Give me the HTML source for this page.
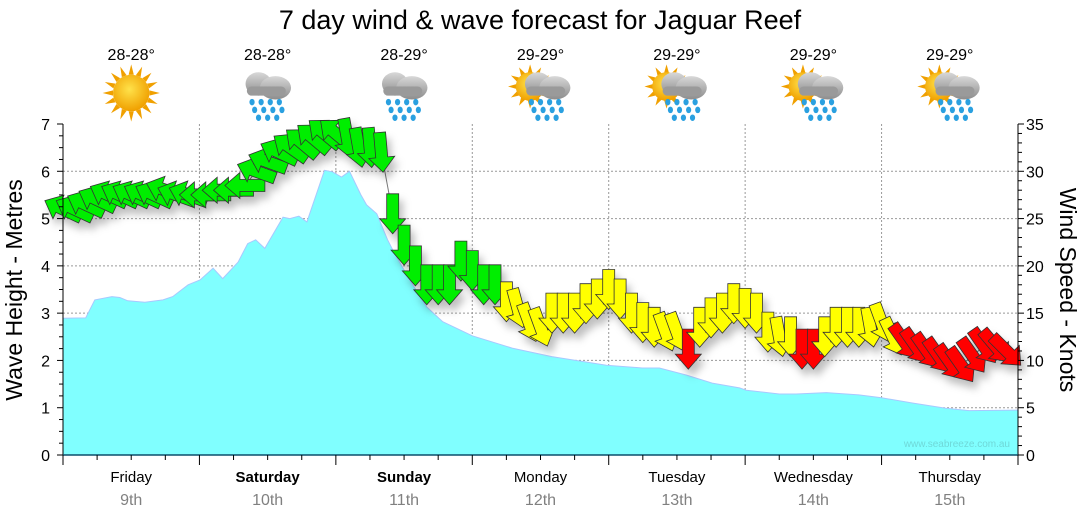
<!DOCTYPE html>
<html><head><meta charset="utf-8"><style>
html,body{margin:0;padding:0;background:#fff;}
svg{display:block;font-family:"Liberation Sans",sans-serif;}
</style></head><body>
<svg id="chart" width="1080" height="522" viewBox="0 0 1080 522" xmlns="http://www.w3.org/2000/svg">
<defs>
<filter id="sh" x="-50%" y="-50%" width="200%" height="200%"><feDropShadow dx="4" dy="7" stdDeviation="4" flood-color="#000" flood-opacity="0.25"/></filter>
<radialGradient id="sunG" cx="0.45" cy="0.4" r="0.6"><stop offset="0" stop-color="#ffe24a"/><stop offset="1" stop-color="#f0a000"/></radialGradient>
<linearGradient id="cloudG" x1="0" y1="0" x2="0" y2="1"><stop offset="0" stop-color="#d8d8d8"/><stop offset="1" stop-color="#8c8c8c"/></linearGradient>
</defs>
<text x="540" y="29" font-size="27" text-anchor="middle" fill="#000">7 day wind &amp; wave forecast for Jaguar Reef</text>
<g id="grid"></g>
<g id="wave"></g>
<g id="wind"></g>
<g id="axes"></g>
<g id="icons"></g>
<text transform="translate(22,290) rotate(-90)" font-size="23" text-anchor="middle">Wave Height - Metres</text>
<text transform="translate(1060,290) rotate(90)" font-size="23" text-anchor="middle">Wind Speed - Knots</text>
<text x="1010" y="447" font-size="10" text-anchor="end" fill="#6fd8d8">www.seabreeze.com.au</text>
</svg>
<script>
const days = ["Friday","Saturday","Sunday","Monday","Tuesday","Wednesday","Thursday"];
const dates = ["9th","10th","11th","12th","13th","14th","15th"];
const boldDays = [false,true,true,false,false,false,false];
const temps = ["28-28°","28-28°","28-29°","29-29°","29-29°","29-29°","29-29°"];
const iconTypes = ["sun","rain","rain","sunrain","sunrain","sunrain","sunrain"];
const waveHours = [0,4,5.6,8.6,10,11.4,14.4,17.6,19.3,22,24.1,26.4,28.1,30.8,32.5,33.9,35.5,38.7,39.9,41.5,42.9,46,47.4,49,50.4,52.4,53.4,55.2,57.1,58.3,61,64,66.8,72,79,86,95.6,101.9,104.9,109.7,114.2,119,120.2,126,129,134.3,140,144,149.4,155.3,159.4,168];
const waveHeights = [2.89,2.9,3.28,3.35,3.33,3.26,3.23,3.28,3.35,3.6,3.7,3.95,3.73,4.08,4.47,4.55,4.37,5.03,5.0,5.05,4.93,6.02,5.99,5.88,6.0,5.5,5.29,5.1,4.55,4.27,3.7,3.13,2.82,2.52,2.26,2.08,1.9,1.84,1.84,1.69,1.52,1.42,1.37,1.29,1.29,1.32,1.27,1.21,1.1,0.99,0.94,0.95];
const windSpeeds = [26,26,26.5,27,27.5,27.5,27.5,27.5,27.5,28,27.5,27.5,27.5,27.5,28,28,28.5,30,31,32,32.5,33,33.5,34,34,33.5,32.5,32.5,32,25.5,22.2,20,18,18,18,20.5,19.5,18,18,16.2,15.5,14,13.5,15,15,15,16,16.5,17.5,16.5,15,14,13.5,13,13,11.2,13.5,14.5,15,16,15.5,15,13,12.5,12.5,11.2,11.2,12.5,13.5,13.5,13.5,13.5,14,12.5,12,11.5,11,10.5,9.8,9.5,10.5,11.5,11.5,11];
const windDirs = [205,205,205,205,205,205,205,205,205,200,200,200,180,180,180,180,180,200,200,205,215,220,220,220,220,80,80,85,85,90,90,90,90,90,90,90,90,90,90,90,75,70,70,90,90,90,90,90,90,90,90,90,90,70,70,90,90,90,90,90,90,90,90,80,90,90,90,90,90,90,90,80,70,65,55,55,55,55,55,55,55,55,50,45];
const windColors = ["g","g","g","g","g","g","g","g","g","g","g","g","g","g","g","g","g","g","g","g","g","g","g","g","g","g","g","g","g","g","g","g","g","g","g","g","g","g","g","y","y","y","y","y","y","y","y","y","y","y","y","y","y","y","y","r","y","y","y","y","y","y","y","y","y","r","r","y","y","y","y","y","y","y","r","r","r","r","r","r","r","r","r","r"];
const leftTicks = [0,1,2,3,4,5,6,7];
const rightTicks = [0,5,10,15,20,25,30,35];

const NS="http://www.w3.org/2000/svg";
const X0=63,X1=1018,Y0=455,Y1=124;
const xH=h=>X0+h*(X1-X0)/168;
const yM=m=>Y0-m*(Y0-Y1)/7;
const yK=k=>Y0-k*(Y0-Y1)/35;
function mk(tag,attrs,parent){const e=document.createElementNS(NS,tag);for(const k in attrs)e.setAttribute(k,attrs[k]);parent.appendChild(e);return e;}
const grid=document.getElementById('grid'),axes=document.getElementById('axes'),wave=document.getElementById('wave'),wind=document.getElementById('wind'),icons=document.getElementById('icons');

leftTicks.forEach(m=>{if(m>0&&m<7){const l=mk('line',{x1:X0,x2:X1,y1:yM(m),y2:yM(m),stroke:'#999','stroke-dasharray':'2,2','stroke-width':1},grid);

}});
for(let d=1;d<7;d++){const l=mk('line',{x1:xH(d*24),x2:xH(d*24),y1:Y1,y2:Y0,stroke:'#999','stroke-dasharray':'2,2','stroke-width':1},grid);

}

let d='M'+xH(waveHours[0])+','+Y0;
waveHours.forEach((h,i)=>{d+=' L'+xH(h).toFixed(1)+','+yM(waveHeights[i]).toFixed(1);});
d+=' L'+xH(waveHours[waveHours.length-1])+','+Y0+' Z';
const wp=mk('path',{d:d,fill:'#80ffff',stroke:'#a8c8ff','stroke-width':1},wave);



const colMap={g:'#00ee00',y:'#ffff00',r:'#ff0000'};
let pl='';
windSpeeds.forEach((s,i)=>{pl+=(i?' L':'M')+xH(i*2).toFixed(1)+','+yK(s).toFixed(1);});
const ln=mk('path',{d:pl,fill:'none',stroke:'#777','stroke-width':1},wind);


const ag=mk('g',{filter:'url(#sh)'},wind);
windSpeeds.forEach((s,i)=>{
 const a=mk('path',{d:'M-20,-6 L5,-6 L5,-13 L20,0 L5,13 L5,6 L-20,6 Z',fill:colMap[windColors[i]],stroke:'#333','stroke-width':0.8,
 transform:'translate('+xH(i*2).toFixed(1)+','+yK(s).toFixed(1)+') rotate('+windDirs[i]+')'},ag);
 
 
});

mk('line',{x1:X0,x2:X0,y1:Y1,y2:Y0,stroke:'#000'},axes);
mk('line',{x1:X1,x2:X1,y1:Y1,y2:Y0,stroke:'#000'},axes);
mk('line',{x1:X0,x2:X1,y1:Y0,y2:Y0,stroke:'#0b4f6c','stroke-width':1.5},axes);
for(let q=0;q<=28;q++){const y=yM(q/4);mk('line',{x1:X0-(q%4?4:6),x2:X0,y1:y,y2:y,stroke:'#000'},axes);}
for(let k=0;k<=35;k++){const y=yK(k);mk('line',{x1:X1,x2:X1+(k%5?4:6),y1:y,y2:y,stroke:'#000'},axes);}
leftTicks.forEach(m=>{const t=mk('text',{x:X0-13,y:yM(m)+6,'font-size':16,'text-anchor':'end'},axes);t.textContent=m;

});
rightTicks.forEach(k=>{const t=mk('text',{x:X1+8,y:yK(k)+6,'font-size':16},axes);t.textContent=k;

});
for(let h=0;h<=168;h+=6){const x=xH(h);mk('line',{x1:x,x2:x,y1:Y0,y2:Y0+(h%24?5:10),stroke:'#000'},axes);}
days.forEach((n,i)=>{const cx=xH(i*24+12);
 const t=mk('text',{x:cx,y:482,'font-size':15,'text-anchor':'middle','font-weight':boldDays[i]?'bold':'normal'},axes);t.textContent=n;
 
 
 const t2=mk('text',{x:cx,y:505,'font-size':16,'text-anchor':'middle',fill:'#808080'},axes);t2.textContent=dates[i];
 
 
 const t3=mk('text',{x:cx,y:60,'font-size':16,'text-anchor':'middle'},icons);t3.textContent=temps[i];
 
 
 const g=mk('g',{transform:'translate('+cx+',93) scale(1.3)'},icons);
 
 
 const ty=iconTypes[i];
 if(ty==='sun'){for(let r=0;r<16;r++){mk('path',{d:'M-2,-14 L0,-22 L2,-14 Z',fill:'#f0a000',transform:'rotate('+r*22.5+')'},g);}mk('circle',{r:14,fill:'url(#sunG)'},g);}
 if(ty==='sunrain'){for(let r=0;r<12;r++){mk('path',{d:'M-2,-10 L0,-17 L2,-10 Z',fill:'#f0a000',transform:'translate(-8,-5) rotate('+r*30+')'},g);}mk('circle',{cx:-8,cy:-5,r:11,fill:'url(#sunG)'},g);}
 if(ty==='rain'||ty==='sunrain'){
  const ox=ty==='rain'?0:5;
  mk('ellipse',{cx:ox-7,cy:-7,rx:10,ry:9,fill:'url(#cloudG)'},g);
  mk('ellipse',{cx:ox+6,cy:-4,rx:12,ry:9,fill:'url(#cloudG)'},g);
  mk('rect',{x:ox-16,y:-5,width:30,height:7,rx:3.5,fill:'#9a9a9a'},g);
  const drops=[[-12,7],[-5,7],[2,7],[9,7],[-10,13],[-3,13],[4,13],[11,13],[-7,19],[0,19],[7,19]];
  drops.forEach(p=>mk('ellipse',{cx:ox+p[0],cy:p[1],rx:2,ry:2.5,fill:'#2aa0e0'},g));
 }
});
</script>
</body></html>
